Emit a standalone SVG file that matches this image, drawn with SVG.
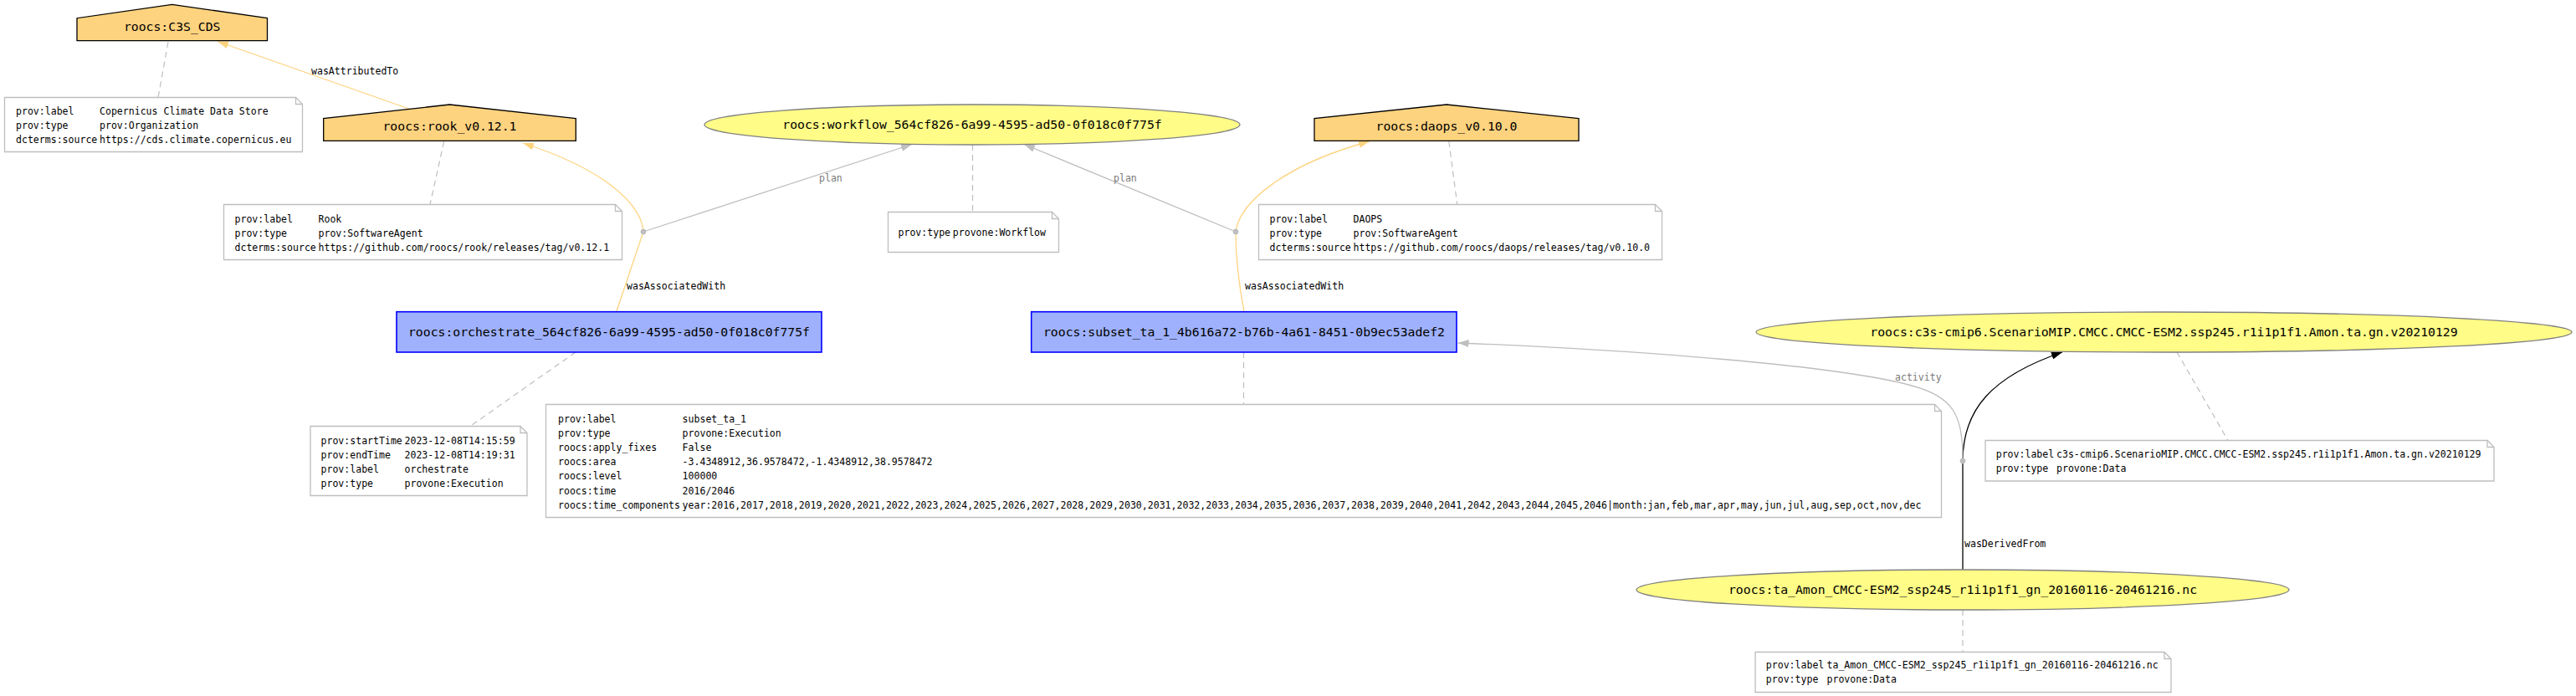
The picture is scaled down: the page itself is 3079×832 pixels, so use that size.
<svg xmlns="http://www.w3.org/2000/svg" width="3079" height="832" viewBox="0 0 3079 832">
<defs>
<style>
text{font-family:"DejaVu Sans Mono","Liberation Mono",monospace}
.nl{font-size:14.77px;fill:#000;text-anchor:middle}
.t{font-size:11.55px;fill:#000}
.g{font-size:11.55px;fill:#7a7a7a}
.agent{fill:#FED37F;stroke:#000;stroke-width:1.3}
.act{fill:#9FB1FC;stroke:#0000FF;stroke-width:1.6}
.ent{fill:#FFFC87;stroke:#808080;stroke-width:1.3}
.note{fill:#fff;stroke:#BEBEBE;stroke-width:1.3}
.fold{fill:none;stroke:#BEBEBE;stroke-width:1.3}
.dash{fill:none;stroke:#BEBEBE;stroke-width:1.2;stroke-dasharray:7,5}
.eo{fill:none;stroke:#FED37F;stroke-width:1.3}
.eg{fill:none;stroke:#BEBEBE;stroke-width:1.3}
.ek{fill:none;stroke:#000;stroke-width:1.3}
.pt{fill:#BEBEBE;stroke:#BEBEBE}
</style>
<marker id="ao" markerUnits="userSpaceOnUse" markerWidth="13" markerHeight="9" refX="13" refY="4.5" orient="auto"><path d="M0,0 L13,4.5 L0,9 z" fill="#FED37F"/></marker>
<marker id="ag" markerUnits="userSpaceOnUse" markerWidth="13" markerHeight="9" refX="13" refY="4.5" orient="auto"><path d="M0,0 L13,4.5 L0,9 z" fill="#BEBEBE"/></marker>
<marker id="ak" markerUnits="userSpaceOnUse" markerWidth="13" markerHeight="9" refX="13" refY="4.5" orient="auto"><path d="M0,0 L13,4.5 L0,9 z" fill="#000"/></marker>
</defs>
<rect x="0" y="0" width="3079" height="832" fill="#fff"/>

<g id="connectors">
<line class="dash" x1="201" y1="50" x2="189" y2="116.5"/>
<line class="dash" x1="530.7" y1="169" x2="514" y2="244.5"/>
<line class="dash" x1="1162.5" y1="173" x2="1162.5" y2="253.5"/>
<line class="dash" x1="1731.8" y1="169" x2="1741.8" y2="244.5"/>
<line class="dash" x1="688" y1="421" x2="562" y2="509.5"/>
<line class="dash" x1="1486.5" y1="421" x2="1486.5" y2="483.5"/>
<line class="dash" x1="2602" y1="421" x2="2663" y2="526.5"/>
<line class="dash" x1="2346" y1="729" x2="2346" y2="779.5"/>

<path class="eo" d="M490,130.5 L260,49.5" marker-end="url(#ao)"/>
<text class="t" x="372" y="89">wasAttributedTo</text>

<path class="eo" d="M736.7,372.7 L769,277"/>
<text class="t" x="749" y="346">wasAssociatedWith</text>
<path class="eo" d="M769,277 C766,240 715,200 625,171" marker-end="url(#ao)"/>
<path class="eg" d="M769,277 L1090,172.5" marker-end="url(#ag)"/>
<text class="g" x="979" y="217">plan</text>

<path class="eo" d="M1487,372.7 Q1477,320 1477,277"/>
<text class="t" x="1488" y="346">wasAssociatedWith</text>
<path class="eo" d="M1477,277 C1482,240 1540,195 1637,169" marker-end="url(#ao)"/>
<path class="eg" d="M1477,277 L1224,172.5" marker-end="url(#ag)"/>
<text class="g" x="1331" y="217">plan</text>

<path class="ek" d="M2346,681 L2346,551"/>
<text class="t" x="2348" y="654">wasDerivedFrom</text>
<path class="ek" d="M2346,551 C2346,490 2380,450 2465,421" marker-end="url(#ak)"/>
<path class="eg" d="M2346,551 C2346,495 2335,475 2285,461 C2200,437 1950,418 1742.6,410" marker-end="url(#ag)"/>
<text class="g" x="2265" y="455">activity</text>

<circle class="pt" cx="769" cy="277" r="3"/>
<circle class="pt" cx="1477" cy="277" r="3"/>
<circle class="pt" cx="2346" cy="551" r="3"/>
</g>

<g id="node-c3s_cds">
<polygon class="agent" points="319.5,21.7 205.7,5.3 92,21.7 92,48.7 319.5,48.7"/>
<text class="nl" x="205.7" y="36.5">roocs:C3S_CDS</text>
</g>
<g id="note-c3s_cds">
<path class="note" d="M5.5,116.5 H353.5 L361.5,124.5 V181.5 H5.5 Z"/>
<path class="fold" d="M353.5,116.5 V124.5 H361.5"/>
<text class="t" x="19" y="137">prov:label</text>
<text class="t" x="19" y="154.2">prov:type</text>
<text class="t" x="19" y="171.4">dcterms:source</text>
<text class="t" x="119" y="137">Copernicus Climate Data Store</text>
<text class="t" x="119" y="154.2">prov:Organization</text>
<text class="t" x="119" y="171.4">https://cds.climate.copernicus.eu</text>
</g>

<g id="node-rook">
<polygon class="agent" points="688.3,141.7 537.5,125 386.7,141.7 386.7,168.3 688.3,168.3"/>
<text class="nl" x="537.5" y="156">roocs:rook_v0.12.1</text>
</g>
<g id="note-rook">
<path class="note" d="M267.5,244.5 H735.5 L743.5,252.5 V310.5 H267.5 Z"/>
<path class="fold" d="M735.5,244.5 V252.5 H743.5"/>
<text class="t" x="280.5" y="265.5">prov:label</text>
<text class="t" x="280.5" y="282.7">prov:type</text>
<text class="t" x="280.5" y="299.9">dcterms:source</text>
<text class="t" x="380.5" y="265.5">Rook</text>
<text class="t" x="380.5" y="282.7">prov:SoftwareAgent</text>
<text class="t" x="380.5" y="299.9">https://github.com/roocs/rook/releases/tag/v0.12.1</text>
</g>

<g id="node-workflow">
<ellipse class="ent" cx="1162" cy="149" rx="320" ry="24"/>
<text class="nl" x="1162" y="154">roocs:workflow_564cf826-6a99-4595-ad50-0f018c0f775f</text>
</g>
<g id="note-workflow">
<path class="note" d="M1061.5,253.5 H1257.5 L1265.5,261.5 V301.5 H1061.5 Z"/>
<path class="fold" d="M1257.5,253.5 V261.5 H1265.5"/>
<text class="t" x="1073.5" y="281.5">prov:type</text>
<text class="t" x="1138.8" y="281.5">provone:Workflow</text>
</g>

<g id="node-daops">
<polygon class="agent" points="1887,141.7 1729,125 1571,141.7 1571,168.3 1887,168.3"/>
<text class="nl" x="1729" y="156">roocs:daops_v0.10.0</text>
</g>
<g id="note-daops">
<path class="note" d="M1504.5,244.5 H1978.5 L1986.5,252.5 V310.5 H1504.5 Z"/>
<path class="fold" d="M1978.5,244.5 V252.5 H1986.5"/>
<text class="t" x="1517.5" y="265.5">prov:label</text>
<text class="t" x="1517.5" y="282.7">prov:type</text>
<text class="t" x="1517.5" y="299.9">dcterms:source</text>
<text class="t" x="1617.5" y="265.5">DAOPS</text>
<text class="t" x="1617.5" y="282.7">prov:SoftwareAgent</text>
<text class="t" x="1617.5" y="299.9">https://github.com/roocs/daops/releases/tag/v0.10.0</text>
</g>

<g id="node-orchestrate">
<rect class="act" x="474" y="372.7" width="508" height="48.3"/>
<text class="nl" x="728" y="402">roocs:orchestrate_564cf826-6a99-4595-ad50-0f018c0f775f</text>
</g>
<g id="note-orchestrate">
<path class="note" d="M371,509.5 H622 L630,517.5 V592.5 H371 Z"/>
<path class="fold" d="M622,509.5 V517.5 H630"/>
<text class="t" x="383.5" y="530.5">prov:startTime</text>
<text class="t" x="383.5" y="547.7">prov:endTime</text>
<text class="t" x="383.5" y="564.9">prov:label</text>
<text class="t" x="383.5" y="582.1">prov:type</text>
<text class="t" x="483.5" y="530.5">2023-12-08T14:15:59</text>
<text class="t" x="483.5" y="547.7">2023-12-08T14:19:31</text>
<text class="t" x="483.5" y="564.9">orchestrate</text>
<text class="t" x="483.5" y="582.1">provone:Execution</text>
</g>

<g id="node-subset">
<rect class="act" x="1232.7" y="372.7" width="508.3" height="48.3"/>
<text class="nl" x="1487" y="402">roocs:subset_ta_1_4b616a72-b76b-4a61-8451-0b9ec53adef2</text>
</g>
<g id="note-subset">
<path class="note" d="M652.5,483.5 H2312.5 L2320.5,491.5 V618.5 H652.5 Z"/>
<path class="fold" d="M2312.5,483.5 V491.5 H2320.5"/>
<text class="t" x="667" y="504.5">prov:label</text>
<text class="t" x="667" y="521.7">prov:type</text>
<text class="t" x="667" y="538.9">roocs:apply_fixes</text>
<text class="t" x="667" y="556.1">roocs:area</text>
<text class="t" x="667" y="573.3">roocs:level</text>
<text class="t" x="667" y="590.5">roocs:time</text>
<text class="t" x="667" y="607.7">roocs:time_components</text>
<text class="t" x="815.6" y="504.5">subset_ta_1</text>
<text class="t" x="815.6" y="521.7">provone:Execution</text>
<text class="t" x="815.6" y="538.9">False</text>
<text class="t" x="815.6" y="556.1">-3.4348912,36.9578472,-1.4348912,38.9578472</text>
<text class="t" x="815.6" y="573.3">100000</text>
<text class="t" x="815.6" y="590.5">2016/2046</text>
<text class="t" x="815.6" y="607.7">year:2016,2017,2018,2019,2020,2021,2022,2023,2024,2025,2026,2027,2028,2029,2030,2031,2032,2033,2034,2035,2036,2037,2038,2039,2040,2041,2042,2043,2044,2045,2046|month:jan,feb,mar,apr,may,jun,jul,aug,sep,oct,nov,dec</text>
</g>

<g id="node-c3s-cmip6">
<ellipse class="ent" cx="2586.5" cy="397" rx="487.5" ry="24"/>
<text class="nl" x="2586.5" y="402">roocs:c3s-cmip6.ScenarioMIP.CMCC.CMCC-ESM2.ssp245.r1i1p1f1.Amon.ta.gn.v20210129</text>
</g>
<g id="note-c3s-cmip6">
<path class="note" d="M2373,526.5 H2973 L2981,534.5 V575 H2373 Z"/>
<path class="fold" d="M2973,526.5 V534.5 H2981"/>
<text class="t" x="2385.7" y="546.5">prov:label</text>
<text class="t" x="2385.7" y="563.5">prov:type</text>
<text class="t" x="2458" y="546.5">c3s-cmip6.ScenarioMIP.CMCC.CMCC-ESM2.ssp245.r1i1p1f1.Amon.ta.gn.v20210129</text>
<text class="t" x="2458" y="563.5">provone:Data</text>
</g>

<g id="node-ta_amon">
<ellipse class="ent" cx="2346" cy="705" rx="390" ry="24"/>
<text class="nl" x="2346" y="710">roocs:ta_Amon_CMCC-ESM2_ssp245_r1i1p1f1_gn_20160116-20461216.nc</text>
</g>
<g id="note-ta_amon">
<path class="note" d="M2098,779.5 H2587 L2595,787.5 V827.5 H2098 Z"/>
<path class="fold" d="M2587,779.5 V787.5 H2595"/>
<text class="t" x="2110.8" y="799">prov:label</text>
<text class="t" x="2110.8" y="816">prov:type</text>
<text class="t" x="2183.5" y="799">ta_Amon_CMCC-ESM2_ssp245_r1i1p1f1_gn_20160116-20461216.nc</text>
<text class="t" x="2183.5" y="816">provone:Data</text>
</g>
</svg>
